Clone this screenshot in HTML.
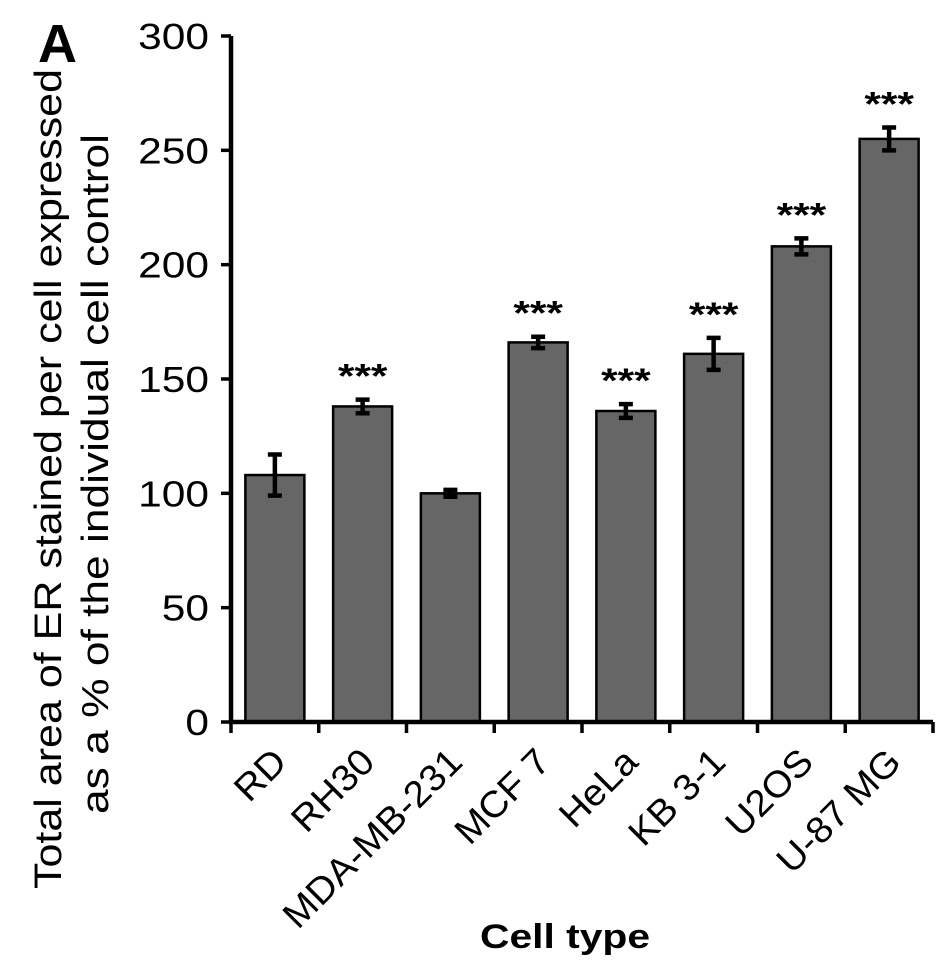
<!DOCTYPE html>
<html><head><meta charset="utf-8"><style>
body{margin:0;background:#fff}
svg text{font-family:"Liberation Sans",Arial,sans-serif;fill:#000}
</style></head><body>
<svg id="chart" width="945" height="971" viewBox="0 0 945 971" xmlns="http://www.w3.org/2000/svg">
<text x="38" y="62" font-size="54" font-weight="bold">A</text>
<g transform="translate(61,479) rotate(-90)">
<text x="0" y="0" font-size="38" text-anchor="middle" textLength="820" lengthAdjust="spacingAndGlyphs">Total area  of ER stained per cell expressed</text>
<text x="5" y="47" font-size="38" text-anchor="middle" textLength="680" lengthAdjust="spacingAndGlyphs">as a % of the individual  cell control</text>
</g>
<text transform="translate(565,948) scale(1.2,1)" font-size="34" font-weight="bold" text-anchor="middle">Cell type</text>
<g id="plot"></g>
</svg>
<script>
const categories=["RD","RH30","MDA-MB-231","MCF 7","HeLa","KB 3-1","U2OS","U-87 MG"];
const values=[108,138,100,166,136,161,208,255];
const errors=[9,3,1.5,2.5,3,7,3.5,5];
const signif=["","***","","***","***","***","***","***"];
const yTicks=[0,50,100,150,200,250,300];
const X0=231,X1=933,Y0=722,Y1=36,YMAX=300;
const n=categories.length,step=(X1-X0)/n,bw=59;
const y=v=>Y0-(v/YMAX)*(Y0-Y1);
const xc=i=>X0+step*(i+0.5);
const g=document.getElementById('plot');
const NS="http://www.w3.org/2000/svg";
function mk(t,a){const e=document.createElementNS(NS,t);for(const k in a)e.setAttribute(k,a[k]);g.appendChild(e);return e;}
categories.forEach((c,i)=>{
 const r=mk('rect',{x:xc(i)-bw/2,y:y(values[i]),width:bw,height:Y0-y(values[i]),fill:'#666',stroke:'#000','stroke-width':2.5});
 
 
 const hi=y(values[i]+errors[i]),lo=y(values[i]-errors[i]);
 const e=mk('path',{d:`M${xc(i)} ${hi}V${lo}M${xc(i)-7} ${hi}H${xc(i)+7}M${xc(i)-7} ${lo}H${xc(i)+7}`,stroke:'#000','stroke-width':4.5,fill:'none'});
 
 
 if(signif[i]){const s=mk('text',{transform:`translate(${xc(i)},${hi-12}) scale(1.25,1)`,'font-size':34,'font-weight':'bold','text-anchor':'middle'});s.textContent=signif[i];
 
 }
 const l=mk('text',{x:0,y:0,'font-size':37,'text-anchor':'end',transform:`translate(${xc(i)+14},${Y0+42}) rotate(-45) scale(1.05,1)`});l.textContent=c;
 
 
});
for(let i=0;i<=n;i++){const t=mk('line',{x1:X0+step*i,x2:X0+step*i,y1:Y0,y2:Y0+11,stroke:'#000','stroke-width':3.5});

}
yTicks.forEach(v=>{
 const t=mk('line',{x1:X0-10,x2:X0,y1:y(v),y2:y(v),stroke:'#000','stroke-width':3.5});
 
 
 const l=mk('text',{transform:`translate(${X0-22},${y(v)+13}) scale(1.18,1)`,'font-size':36,'text-anchor':'end'});l.textContent=v;
 
 
});
const ax=mk('path',{d:`M${X0} ${Y1}V${Y0}H${X1}`,stroke:'#000','stroke-width':4.5,fill:'none'});


</script>
</body></html>
